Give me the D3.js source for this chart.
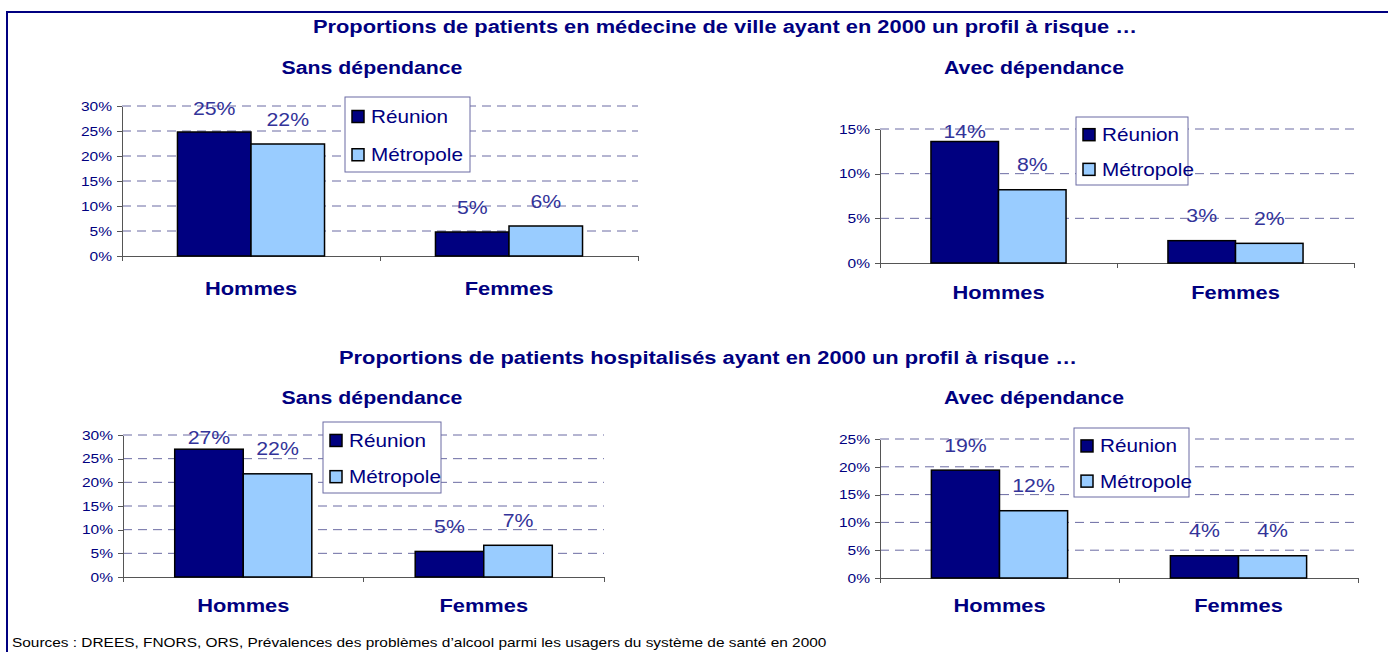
<!DOCTYPE html>
<html lang="fr">
<head>
<meta charset="utf-8">
<title>Profils à risque - Réunion / Métropole</title>
<style>
  body { margin: 0; background: #fff; }
  svg text { font-family: Arial, "Liberation Sans", sans-serif; }
  .title { fill: #000080; font-weight: bold; font-size: 19px; }
  .subtitle { fill: #000080; font-weight: bold; font-size: 18.5px; }
  .cat { fill: #000080; font-weight: bold; font-size: 19px; }
  .value { fill: #333399; font-size: 18.5px; }
  .legend-text { fill: #000080; font-size: 18px; }
  .tick-text { fill: #000080; font-size: 13.5px; }
  .source { fill: #000; font-size: 13.4px; }
  .grid { stroke: #6b6ba3; stroke-width: 1; stroke-dasharray: 9,6; }
  .axis path, .axis line { stroke: #555; shape-rendering: crispEdges; }
  .bar { stroke: #000; stroke-width: 1.5; }
</style>
</head>
<body>
<div id="chart"></div>
<script src="https://d3js.org/d3.v7.min.js"></script>
<script>
  // data
  var categories = ["Hommes", "Femmes"];
  var seriesNames = ["Réunion", "Métropole"];
  var seriesColors = ["#000080", "#99ccff"];

  var villeSansReunion = [24.8, 4.8];
  var villeSansMetropole = [22.4, 6.0];
  var villeAvecReunion = [13.6, 2.5];
  var villeAvecMetropole = [8.2, 2.2];
  var hospSansReunion = [27.0, 5.4];
  var hospSansMetropole = [21.8, 6.7];
  var hospAvecReunion = [19.4, 4.0];
  var hospAvecMetropole = [12.1, 4.0];

  var ticks30 = [0, 5, 10, 15, 20, 25, 30];
  var ticks15 = [0, 5, 10, 15];
  var ticks25 = [0, 5, 10, 15, 20, 25];

  var titleVille = "Proportions de patients en médecine de ville ayant en 2000 un profil à risque …";
  var titleHosp = "Proportions de patients hospitalisés ayant en 2000 un profil à risque …";
  var subSans = "Sans dépendance";
  var subAvec = "Avec dépendance";
  var sourceText = "Sources : DREES, FNORS, ORS, Prévalences des problèmes d’alcool parmi les usagers du système de santé en 2000";

  // the original picture is a bit stretched sideways, text follows it
  var SX = 1.15;

  var svg = d3.select("#chart").append("svg")
    .attr("width", 1388)
    .attr("height", 652);

  svg.append("rect")
    .attr("x", 7).attr("y", 12)
    .attr("width", 1500).attr("height", 800)
    .attr("fill", "none")
    .attr("stroke", "#000080")
    .attr("stroke-width", 2);

  function addText(g, x, y, str, cls, anchor) {
    return g.append("text")
      .attr("transform", "translate(" + x + "," + y + ") scale(" + SX + ",1)")
      .attr("text-anchor", anchor || "middle")
      .attr("class", cls)
      .text(str);
  }

  addText(svg, 725, 33, titleVille, "title");
  addText(svg, 708, 364, titleHosp, "title");
  addText(svg, 12, 647, sourceText, "source", "start");

  var panels = [
    { sub: subSans, subX: 372, subY: 74, reunion: villeSansReunion, metropole: villeSansMetropole, ticks: ticks30,
      x0: 122, x1: 638, y0: 106, y1: 256, catY: 295, legend: { x: 345, y: 97, w: 125, h: 75 } },
    { sub: subAvec, subX: 1034, subY: 74, reunion: villeAvecReunion, metropole: villeAvecMetropole, ticks: ticks15,
      x0: 880, x1: 1354, y0: 129, y1: 263, catY: 299, legend: { x: 1076, y: 117, w: 112, h: 68 } },
    { sub: subSans, subX: 372, subY: 404, reunion: hospSansReunion, metropole: hospSansMetropole, ticks: ticks30,
      x0: 123, x1: 604, y0: 435, y1: 577, catY: 612, legend: { x: 323, y: 422, w: 118, h: 71 } },
    { sub: subAvec, subX: 1034, subY: 404, reunion: hospAvecReunion, metropole: hospAvecMetropole, ticks: ticks25,
      x0: 880, x1: 1358, y0: 439, y1: 578, catY: 612, legend: { x: 1074, y: 428, w: 115, h: 69 } }
  ];

  panels.forEach(drawPanel);

  function drawPanel(p) {
    var g = svg.append("g");
    var y = d3.scaleLinear().domain([0, d3.max(p.ticks)]).range([p.y1, p.y0]);
    var x = d3.scaleBand().domain(categories).range([p.x0, p.x1]);
    var bw = x.bandwidth();
    var xs = d3.scaleBand().domain(seriesNames).range([bw * 0.215, bw * 0.785]);

    addText(g, p.subX, p.subY, p.sub, "subtitle");

    // dashed gridlines
    g.selectAll(".grid")
      .data(p.ticks.filter(function(t) { return t > 0; }))
      .enter().append("line")
      .attr("class", "grid")
      .attr("x1", p.x0).attr("x2", p.x1)
      .attr("y1", function(d) { return y(d); })
      .attr("y2", function(d) { return y(d); });

    // y axis
    var yAxis = g.append("g")
      .attr("class", "axis")
      .attr("transform", "translate(" + p.x0 + ",0)")
      .call(d3.axisLeft(y).tickValues(p.ticks).tickFormat(function(d) { return d + "%"; })
        .tickSize(5).tickSizeOuter(0));
    yAxis.selectAll("text")
      .attr("class", "tick-text")
      .attr("x", -10 / SX)
      .attr("transform", "scale(" + SX + ",1)")
      .attr("fill", null);
    yAxis.attr("font-size", null).attr("font-family", null);

    // x axis with ticks between categories
    var xAxis = g.append("g").attr("class", "axis");
    xAxis.append("line")
      .attr("x1", p.x0).attr("x2", p.x1)
      .attr("y1", p.y1).attr("y2", p.y1);
    var bounds = categories.map(function(c) { return x(c); }).concat([p.x1]);
    xAxis.selectAll(".xt").data(bounds).enter().append("line")
      .attr("x1", function(d) { return d; }).attr("x2", function(d) { return d; })
      .attr("y1", p.y1).attr("y2", p.y1 + 5);

    // bars
    var rows = [];
    categories.forEach(function(c, i) {
      rows.push({ cat: c, s: 0, v: p.reunion[i] });
      rows.push({ cat: c, s: 1, v: p.metropole[i] });
    });

    g.selectAll(".bar").data(rows).enter().append("rect")
      .attr("class", "bar")
      .attr("x", function(d) { return x(d.cat) + xs(seriesNames[d.s]); })
      .attr("y", function(d) { return y(d.v); })
      .attr("width", xs.bandwidth())
      .attr("height", function(d) { return p.y1 - y(d.v); })
      .attr("fill", function(d) { return seriesColors[d.s]; });

    // legend
    var lg = g.append("g").attr("transform", "translate(" + p.legend.x + "," + p.legend.y + ")");
    lg.append("rect")
      .attr("width", p.legend.w).attr("height", p.legend.h)
      .attr("fill", "#fff").attr("stroke", "#6b6ba3").attr("stroke-width", 1);
    var rowY = [p.legend.h * 0.26, p.legend.h * 0.77];
    seriesNames.forEach(function(s, i) {
      lg.append("rect")
        .attr("x", 7).attr("y", rowY[i] - 6)
        .attr("width", 12).attr("height", 12)
        .attr("fill", seriesColors[i])
        .attr("stroke", "#000").attr("stroke-width", 1.5);
      addText(lg, 26, rowY[i] + 6.5, s, "legend-text", "start");
    });

    // value labels
    g.selectAll(".value").data(rows).enter().append("text")
      .attr("class", "value")
      .attr("text-anchor", "middle")
      .attr("transform", function(d) {
        var cx = x(d.cat) + xs(seriesNames[d.s]) + xs.bandwidth() / 2;
        var cy = Math.max(y(d.v) - 25, p.y0 + 2.5) + 6.5;
        return "translate(" + cx + "," + cy + ") scale(" + SX + ",1)";
      })
      .text(function(d) { return Math.round(d.v) + "%"; });

    categories.forEach(function(c) {
      addText(g, x(c) + bw / 2, p.catY, c, "cat");
    });
  }
</script>
</body>
</html>
